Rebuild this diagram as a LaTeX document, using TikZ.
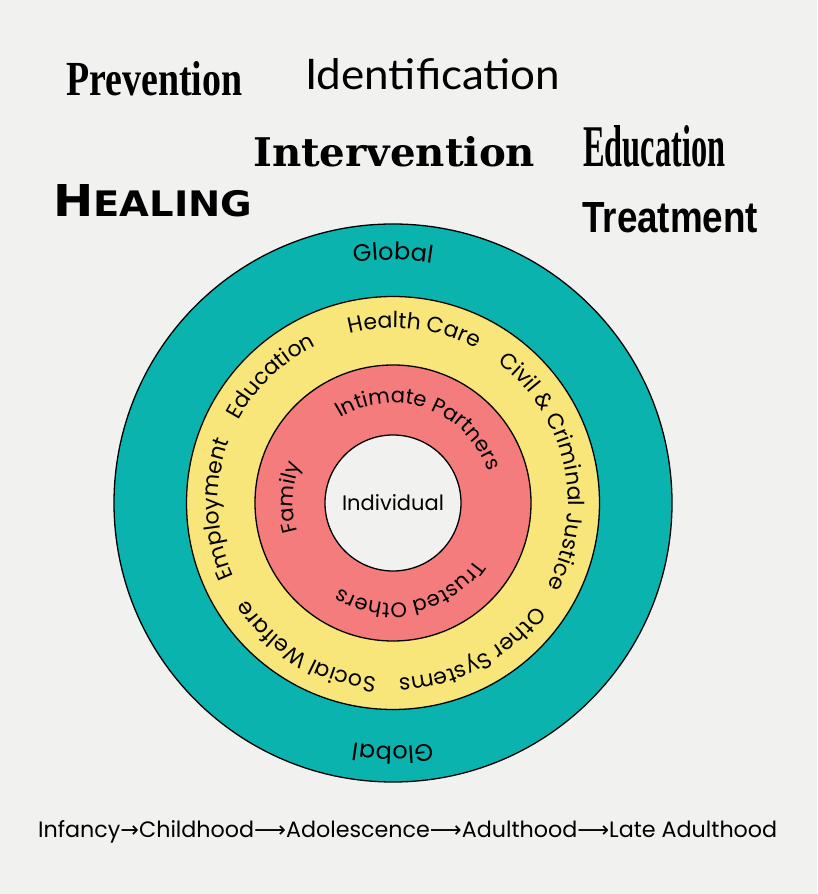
\documentclass[tikz,border=0pt]{standalone}
\usepackage{fontspec}
\usepackage{graphicx}
\usetikzlibrary{decorations.text,calc}
\setmainfont{Poppins}
\newfontfamily\ringfont{Poppins}
\newfontfamily\libserif{Liberation Serif}
\newfontfamily\libsans{Liberation Sans}
\newfontfamily\latofont{Lato}
\newfontfamily\dvserif{DejaVu Serif}
\newfontfamily\dvsans{DejaVu Sans}
\definecolor{bgc}{HTML}{F1F2F0}
\definecolor{tealc}{HTML}{0BB3AE}
\definecolor{yellowc}{HTML}{F8E67A}
\definecolor{redc}{HTML}{F47C7C}
\newcommand\ringlabel[4]{%
  \path[decorate,decoration={text along path,text align=center,
    text={|\ringfont\fontsize{#3}{#3}\selectfont|#4}}]
    ($(C)+({#2+90}:#1)$) arc[start angle={#2+90}, end angle={#2-90}, radius=#1];}
\begin{document}
\begin{tikzpicture}[x=1pt,y=1pt,
  ring/.style={draw=black,line width=1.3pt},
  word/.style={inner sep=0pt,anchor=south west}]
\useasboundingbox (0,0) rectangle (817,894);
\fill[bgc] (0,0) rectangle (817,894);
\coordinate (C) at (393,391);
% rings
\path[ring,fill=tealc] (C) circle[radius=279];
\path[ring,fill=yellowc] (C) circle[radius=206.5];
\path[ring,fill=redc] (C) circle[radius=138];
\path[ring,fill=bgc] (C) circle[radius=68];
\node[font=\ringfont\fontsize{21}{21}\selectfont] (ind) at (C) {Individual};
% ring labels
\ringlabel{243}{90}{24}{Global}
\ringlabel{243}{-90}{24}{Global}
\ringlabel{175}{83}{22}{Health Care}
\ringlabel{175}{134}{22}{Education}
\ringlabel{175}{182}{22}{Employment}
\ringlabel{175}{-121}{22}{Social Welfare}
\ringlabel{175}{-62}{22}{Other Systems}
\ringlabel{175}{12.5}{22}{Civil {\&} Criminal Justice}
\ringlabel{100}{70}{21}{Intimate Partners}
\ringlabel{100}{177}{21}{Family}
\ringlabel{100}{-78}{21}{Trusted Others}
% top words
\node[word] (prev) at (66,{894-96}) {\resizebox{176pt}{34pt}{\libserif\bfseries Prevention}};
\node[word] (ident) at (305,{894-90}) {\resizebox{255pt}{31pt}{\latofont Identification}};
\node[word] (interv) at (253,{894-167}) {\resizebox{282pt}{30pt}{\dvserif\bfseries Intervention}};
\node[word] (educ) at (583,{894-167}) {\resizebox{142pt}{41pt}{\libserif\bfseries Education}};
\node[word] (heal) at (53,{894-217}) {\resizebox{199pt}{32pt}{\dvsans\bfseries\fontsize{20}{20}\selectfont H\fontsize{16}{16}\selectfont EALING}};
\node[word] (treat) at (582,{894-233}) {\resizebox{176pt}{30pt}{\libsans\bfseries Treatment}};
% life stages
\node[inner sep=0pt,anchor=base west] (life) at (38,{894-838}) {\resizebox{739pt}{17pt}{\ringfont Infancy{\dvsans →}Childhood{\dvsans ⟶}Adolescence{\dvsans ⟶}Adulthood{\dvsans ⟶}Late Adulthood}};
\end{tikzpicture}
\end{document}
